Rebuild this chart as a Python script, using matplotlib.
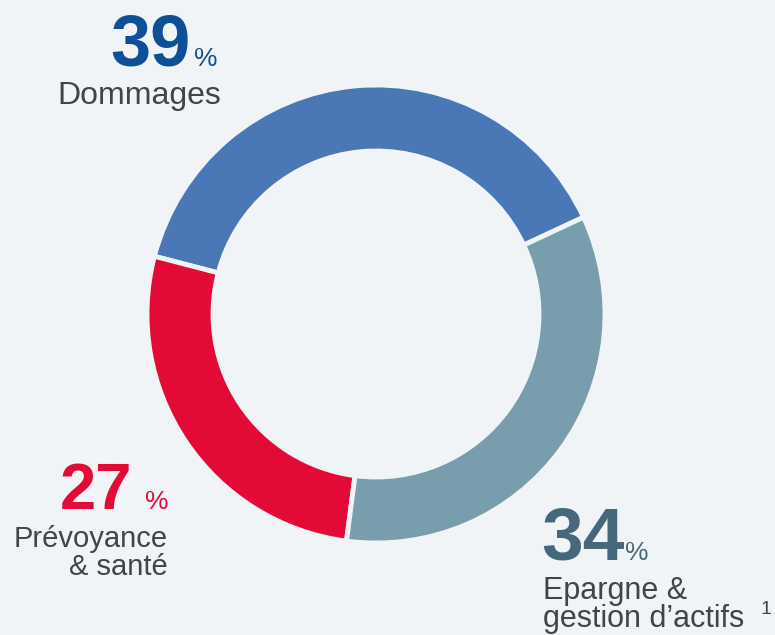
import matplotlib.pyplot as plt

# data
segments = ['Dommages', 'Prévoyance & santé', 'Epargne & gestion d\u2019actifs']
shares = [39, 27, 34]
colors = ['#4a77b6', '#e30a37', '#789dac']
num_colors = ['#0e5097', '#e30a37', '#46687a']

bg = '#f0f4f7'
plt.rcParams['font.family'] = ['Liberation Sans', 'DejaVu Sans']

fig = plt.figure(figsize=(7.75, 6.35), dpi=100, facecolor=bg)
ax = fig.add_axes([0, 0, 1, 1])
ax.set_facecolor(bg)

ax.pie(shares, colors=colors, startangle=25, counterclock=True,
       center=(376, 635 - 314), radius=229,
       wedgeprops=dict(width=66, edgecolor=bg, linewidth=3.5))

# pie() resets the limits, so set them afterwards
ax.set_xlim(0, 775)
ax.set_ylim(0, 635)
ax.set_aspect('equal')
ax.axis('off')

H = 635


def put(x, y, s, **kw):
    ax.text(x, H - y, s, va='baseline', **kw)


label_color = '#444444'

# Dommages
put(110, 66, '39', ha='left', fontsize=52, fontweight='bold', color=num_colors[0])
put(194, 66, '%', ha='left', fontsize=19, color=num_colors[0])
put(57, 104, 'Dommages', ha='left', fontsize=23, color=label_color)

# Prévoyance & santé
put(60, 509, '27', ha='left', fontsize=47, fontweight='bold', color=num_colors[1])
put(145, 509, '%', ha='left', fontsize=19, color=num_colors[1])
put(168, 547, 'Prévoyance', ha='right', fontsize=21, color=label_color)
put(168, 575, '& santé', ha='right', fontsize=21, color=label_color)

# Epargne
put(541, 560, '34', ha='left', fontsize=54, fontweight='bold', color=num_colors[2])
put(625, 560, '%', ha='left', fontsize=19, color=num_colors[2])
put(543, 599, 'Epargne &', ha='left', fontsize=22, color=label_color)
put(543, 627, 'gestion d\u2019actifs', ha='left', fontsize=22, color=label_color)
put(761, 614, '1', ha='left', fontsize=14, color=label_color)

fig.savefig('out.png', dpi=100, facecolor=bg)
